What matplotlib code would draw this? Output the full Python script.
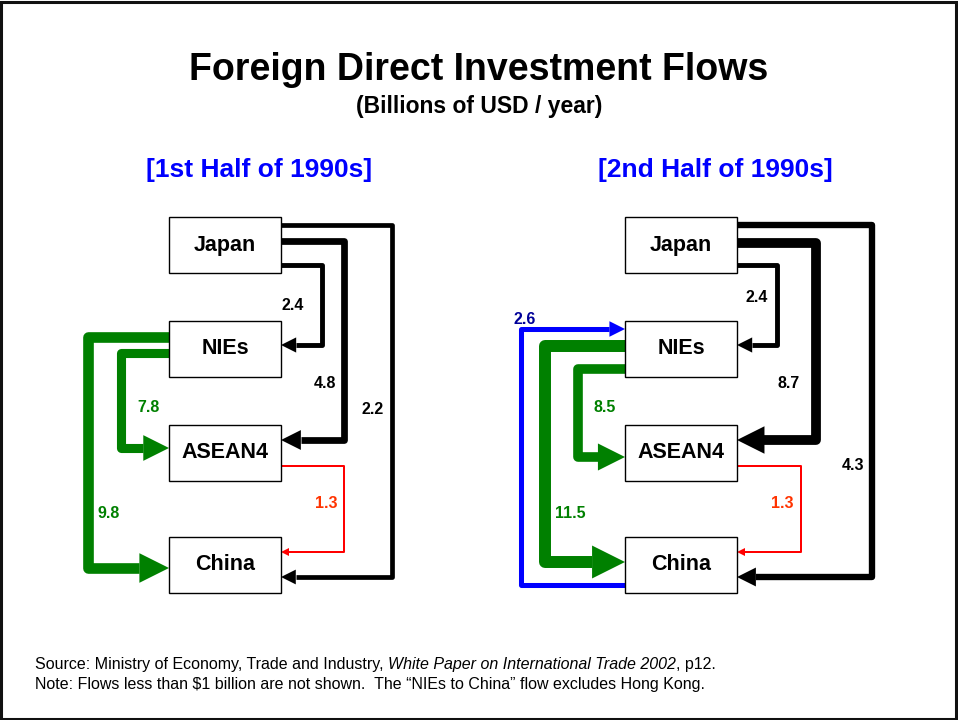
import matplotlib
matplotlib.use("Agg")
import matplotlib.pyplot as plt
from matplotlib.patches import Rectangle, Polygon

# Data: FDI flows (billions of USD / year)
regions = ["Japan", "NIEs", "ASEAN4", "China"]
flow_src = ["Japan", "Japan", "Japan", "ASEAN4", "NIEs", "NIEs", "China"]
flow_dst = ["NIEs", "ASEAN4", "China", "China", "ASEAN4", "China", "NIEs"]
first_half = [2.4, 4.8, 2.2, 1.3, 7.8, 9.8, None]
second_half = [2.4, 8.7, 4.3, 1.3, 8.5, 11.5, 2.6]
panel_titles = ["[1st Half of 1990s]", "[2nd Half of 1990s]"]

# Styles per flow
line_colors = ["black", "black", "black", "#ff0000", "#008000", "#008000", "#0000ff"]
label_colors = ["black", "black", "black", "#ff3300", "#008000", "#008000", "#000099"]

# Layout (pixel coordinates, y down)
W, H = 958, 720
box_w, box_h = 112, 56
box_top = {"Japan": 217, "NIEs": 321, "ASEAN4": 425, "China": 537}
panel_x0 = [169, 625]
# per flow: (start y, lane x offset from box left, end y, side)
routes = [
    [(265, 153, 345, "R"), (241, 175, 440, "R"), (225, 223, 577, "R"),
     (466, 175, 552, "R"), (353, -48, 448, "L"), (337, -81, 568, "L"), None],
    [(265, 152, 345, "R"), (243, 191, 440, "R"), (225, 247, 577, "R"),
     (466, 176, 552, "R"), (369, -47, 457, "L"), (346, -80, 562, "L"),
     (585, -104, 329, "L")],
]
label_pos = [
    [(293, 305), (325, 384), (373, 409), (326, 504), (149, 408), (109, 513), None],
    [(757, 297), (789, 384), (853, 465), (782, 504), (605, 408), (570, 513), (525, 320)],
]

plt.rcParams["font.family"] = ["Liberation Sans", "DejaVu Sans"]

fig = plt.figure(figsize=(W / 100, H / 100), dpi=100)
ax = fig.add_axes([0, 0, 1, 1])
ax.set_xlim(0, W)
ax.set_ylim(H, 0)
ax.axis("off")

# frame
ax.add_patch(Rectangle((1.5, 1.5), W - 3, H - 3, fill=False, lw=2.2, ec="#111111"))

ax.text(479, 66, "Foreign Direct Investment Flows", ha="center", va="center_baseline",
        fontsize=27, fontweight="bold")
ax.text(479, 104, "(Billions of USD / year)", ha="center", va="center_baseline",
        fontsize=16.5, fontweight="bold")


def px2pt(px):
    return px * 72 / 100


for p, values in enumerate([first_half, second_half]):
    x0 = panel_x0[p]
    ax.text(x0 + 90, 170, panel_titles[p], ha="center", va="center",
            fontsize=19, fontweight="bold", color="#0000ff")
    for r in regions:
        ax.add_patch(Rectangle((x0, box_top[r]), box_w, box_h, fill=True,
                               fc="white", ec="black", lw=1.0, zorder=3))
        ax.text(x0 + box_w / 2, box_top[r] + box_h / 2, r, ha="center", va="center",
                fontsize=15.5, fontweight="bold", zorder=4)
    for i, v in enumerate(values):
        if v is None:
            continue
        sy, lane, ey, side = routes[p][i]
        lw = 2.0 if v < 2 else 3 + 0.78 * v
        head = 3 + 2.5 * lw
        if side == "R":
            sx = x0 + box_w
            tip = x0 + box_w
            base = tip + head
        else:
            sx = x0
            tip = x0
            base = tip - head
        lx = x0 + lane
        ax.plot([sx, lx, lx, base], [sy, sy, ey, ey], color=line_colors[i],
                lw=px2pt(lw), solid_joinstyle="round", solid_capstyle="butt", zorder=2)
        ax.add_patch(Polygon([(tip, ey), (base, ey - head / 2), (base, ey + head / 2)],
                             closed=True, fc=line_colors[i], ec="none", zorder=2))
        lxp, lyp = label_pos[p][i]
        ax.text(lxp, lyp, f"{v}", ha="center", va="center", fontsize=11.5,
                fontweight="bold", color=label_colors[i], zorder=5)

# footnotes (mixed upright / italic run)
renderer = fig.canvas.get_renderer()
fs = 11.5
parts = [("Source: Ministry of Economy, Trade and Industry, ", "normal"),
         ("White Paper on International Trade 2002", "italic"),
         (", p12.", "normal")]
x = 35
for s, style in parts:
    t = ax.text(x, 664, s, ha="left", va="center", fontsize=fs, style=style)
    bb = t.get_window_extent(renderer)
    x += bb.width
ax.text(35, 685, "Note: Flows less than $1 billion are not shown.  "
        "The \u201cNIEs to China\u201d flow excludes Hong Kong.",
        ha="left", va="center", fontsize=fs)

fig.savefig("out.png", dpi=100)
